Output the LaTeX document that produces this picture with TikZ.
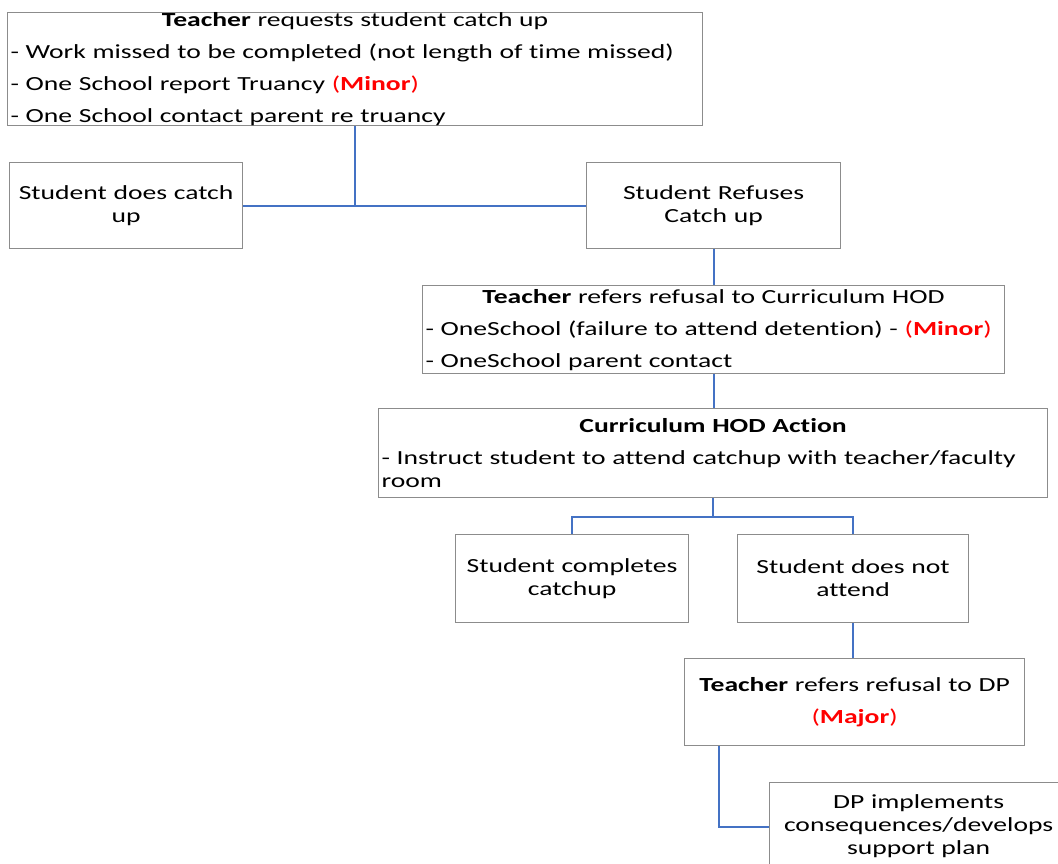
\documentclass[tikz,border=0pt]{standalone}
\usepackage{fontspec}
\setmainfont{Carlito}[FakeStretch=1.38, Ligatures=NoCommon]
\usetikzlibrary{positioning}
\definecolor{boxgray}{HTML}{8C8C8C}
\definecolor{linkblue}{HTML}{4472C4}
\definecolor{flagred}{HTML}{FF0000}
\newcommand{\ctrline}[1]{\hbox to\hsize{\hss#1\hss}}
\newcommand{\flag}[1]{\textcolor{flagred}{(\textbf{#1})}}
\tikzset{
  box/.style={draw=boxgray, line width=1.2pt, anchor=north west, inner xsep=3pt,
    inner ysep=0pt, font=\fontsize{20}{23}\selectfont},
  link/.style={draw=linkblue, line width=1.8pt}
}

\begin{document}
\begin{tikzpicture}[x=1pt, y=-1pt]
  \clip (0,0) rectangle (1058,864);
  \node[box, minimum width=695, minimum height=113, text width=689, align=left] (request) at (7,12)
    {\ctrline{\textbf{Teacher} requests student catch up}\\[9pt]
     - Work missed to be completed (not length of time missed)\\[9pt]
     - One School report Truancy \flag{Minor}\\[9pt]
     - One School contact parent re truancy};
  \node[box, minimum width=233, minimum height=86, text width=227, align=center] (catchup) at (9,162)
    {Student does catch\\up};
  \node[box, minimum width=254, minimum height=86, text width=248, align=center] (refuse) at (586,162)
    {Student Refuses\\Catch up};
  \node[box, minimum width=582, minimum height=88, text width=576, align=left] (hodrefer) at (422,285)
    {\ctrline{\textbf{Teacher} refers refusal to Curriculum HOD}\\[9pt]
     - OneSchool (failure to attend detention) - \flag{Minor}\\[9pt]
     - OneSchool parent contact};
  \node[box, minimum width=669, minimum height=89, text width=663, align=left] (hodaction) at (378,408)
    {\ctrline{\textbf{Curriculum HOD Action}}\\[9pt]
     - Instruct student to attend catchup with teacher/faculty\\room};
  \node[box, minimum width=233, minimum height=88, text width=227, align=center] (complete) at (455,534)
    {Student completes\\catchup};
  \node[box, minimum width=231, minimum height=88, text width=225, align=center] (absent) at (737,534)
    {Student does not\\attend};
  \node[box, minimum width=340, minimum height=87, text width=334, align=center] (dprefer) at (684,658)
    {\textbf{Teacher} refers refusal to DP\\[9pt]\flag{Major}};
  \node[box, minimum width=298, minimum height=88, text width=292, align=center] (dpplan) at (769,782)
    {DP implements\\consequences/develops\\support plan};

  \draw[link] (catchup.east) -- (refuse.west);
  \draw[link] (request.south) -- (request.south |- catchup.east);
  \draw[link] (refuse.south) -- (hodrefer.north);
  \draw[link] (hodrefer.south) -- (hodrefer.south |- hodaction.north);
  \draw[link] (hodaction.south) -- ++(0,19) -| (complete.north);
  \draw[link] (hodaction.south) -- ++(0,19) -| (absent.north);
  \draw[link] (absent.south) -- (absent.south |- dprefer.north);
  \draw[link] ([xshift=35pt]dprefer.south west) |- (dpplan.west);
\end{tikzpicture}
\end{document}
